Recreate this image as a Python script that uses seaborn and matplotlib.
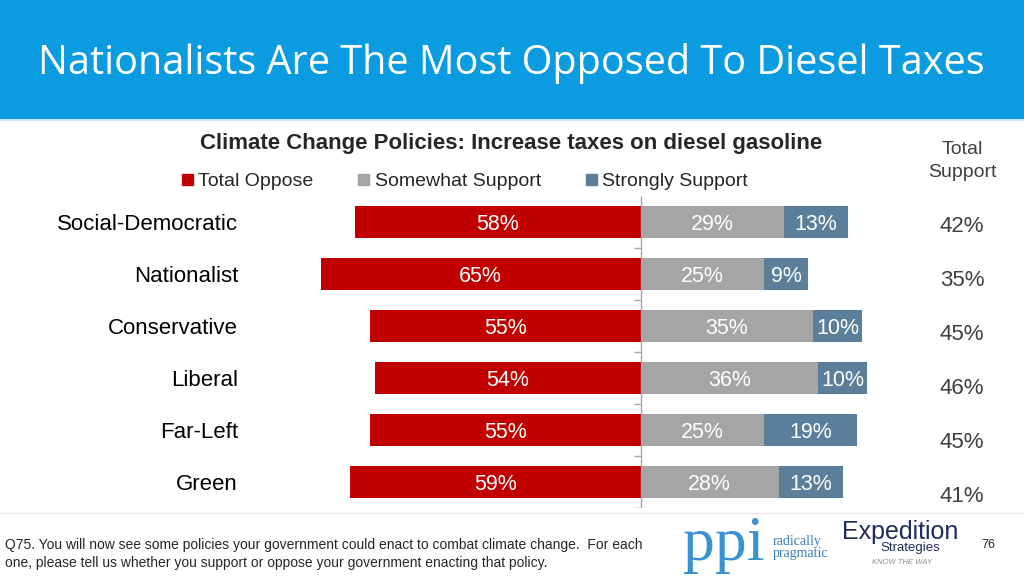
import numpy as np
import pandas as pd
import matplotlib.pyplot as plt
import seaborn as sns
from matplotlib.patches import Patch, Rectangle
from matplotlib.lines import Line2D

# Survey data (percent)
groups = ['Social-Democratic', 'Nationalist', 'Conservative', 'Liberal', 'Far-Left', 'Green']
total_oppose = [58, 65, 55, 54, 55, 59]
somewhat_support = [29, 25, 35, 36, 25, 28]
strongly_support = [13, 9, 10, 10, 19, 13]
total_support = [42, 35, 45, 46, 45, 41]

RED = '#C00000'
GRAY = '#A5A5A5'
BLUE = '#5B7F9B'
HEADER = '#0A9BE0'

df = pd.DataFrame({
    'group': groups,
    'oppose': total_oppose,
    'somewhat': somewhat_support,
    'strongly': strongly_support,
})
df['neg_oppose'] = -df['oppose']
df['support_sum'] = df['somewhat'] + df['strongly']

sns.set_style('white')
plt.rcParams['font.family'] = ['Liberation Sans', 'DejaVu Sans']

fig = plt.figure(figsize=(10.24, 5.76), dpi=100)

# header band
fig.patches.append(Rectangle((0, 1 - 118 / 576), 1, 118 / 576, transform=fig.transFigure,
                             color=HEADER, zorder=0))
fig.add_artist(Line2D([0, 1], [1 - 119.5 / 576] * 2, color='#BFE6F7', lw=1.2))
fig.text(38 / 1024, 1 - 64 / 576, 'Nationalists Are The Most Opposed To Diesel Taxes',
         color='white', fontsize=28.5, family='Open Sans', va='center', ha='left')

# main chart
ax = fig.add_axes([238 / 1024, 1 - 508 / 576, 650 / 1024, 312 / 576])
bar_kw = dict(orient='h', width=0.62, saturation=1, linewidth=0, ax=ax)
sns.barplot(data=df, x='support_sum', y='group', color=BLUE, **bar_kw)
sns.barplot(data=df, x='somewhat', y='group', color=GRAY, **bar_kw)
sns.barplot(data=df, x='neg_oppose', y='group', color=RED, **bar_kw)

ax.set_xlim(-81.8, 50.2)
ax.set_ylim(5.5, -0.5)
ax.set_xlabel('')
ax.set_ylabel('')
ax.set_xticks([])
for s in ax.spines.values():
    s.set_visible(False)
ax.tick_params(axis='y', length=0, pad=0, labelsize=16, labelcolor='black')

# center axis with ticks
ax.vlines(0, -0.5, 5.5, color='#A6A6A6', lw=1)
ax.hlines(np.arange(0.5, 6, 1), -1.4, 0, color='#A6A6A6', lw=1)

for i, row in df.iterrows():
    ax.text(-row['oppose'] / 2, i, f"{row['oppose']}%", color='white', fontsize=15.5,
            ha='center', va='center_baseline')
    ax.text(row['somewhat'] / 2, i, f"{row['somewhat']}%", color='white', fontsize=15.5,
            ha='center', va='center_baseline')
    ax.text(row['somewhat'] + row['strongly'] / 2, i, f"{row['strongly']}%", color='white',
            fontsize=15.5, ha='center', va='center_baseline')

# chart title + legend
fig.text(511 / 1024, 1 - 144 / 576, 'Climate Change Policies: Increase taxes on diesel gasoline',
         fontsize=16, fontweight='bold', ha='center', va='center')
handles = [Patch(color=RED, label='Total Oppose'),
           Patch(color=GRAY, label='Somewhat Support'),
           Patch(color=BLUE, label='Strongly Support')]
fig.legend(handles=handles, loc='center', bbox_to_anchor=(465 / 1024, 1 - 182 / 576), ncol=3,
           frameon=False, fontsize=14, handlelength=0.55, handleheight=0.55,
           handletextpad=0.3, columnspacing=2.3)

# total support column
ax2 = fig.add_axes([930 / 1024, 1 - 524 / 576, 64 / 1024, 324 / 576])
ax2.set_ylim(5.5, -0.5)
ax2.set_xlim(0, 1)
ax2.axis('off')
for i, v in enumerate(total_support):
    ax2.text(0.5, i, f'{v}%', fontsize=16, color='#404040', ha='center', va='center')
fig.text(962 / 1024, 1 - 161 / 576, 'Total\nSupport', fontsize=14, color='#404040',
         ha='center', va='center', linespacing=1.45)

# footer
fig.add_artist(Line2D([0, 1], [1 - 513 / 576] * 2, color='#E6E6E6', lw=1))
fig.text(5 / 1024, 1 - 545 / 576,
         'Q75. You will now see some policies your government could enact to combat climate change.  For each',
         fontsize=10, va='center', ha='left')
fig.text(5 / 1024, 1 - 563 / 576,
         'one, please tell us whether you support or oppose your government enacting that policy.',
         fontsize=10, va='center', ha='left')
fig.text(683 / 1024, 1 - 545 / 576, 'ppi', fontsize=46, color='#3A93D1', family='Liberation Serif',
         va='center', ha='left')
fig.text(773 / 1024, 1 - 547 / 576, 'radically\npragmatic', fontsize=10, color='#3A7FB8',
         family='Liberation Serif', va='center', ha='left', linespacing=0.9)
fig.text(842 / 1024, 1 - 532 / 576, 'Expedition', fontsize=18, color='#1F2D5C', va='center', ha='left')
fig.text(880 / 1024, 1 - 548 / 576, 'Strategies', fontsize=9.5, color='#1F2D5C', va='center', ha='left')
fig.text(872 / 1024, 1 - 563 / 576, 'KNOW THE WAY', fontsize=5.5, color='#8C8C8C', style='italic',
         va='center', ha='left')
fig.text(988 / 1024, 1 - 545 / 576, '76', fontsize=9, va='center', ha='center')

fig.savefig('out.png', dpi=100)
